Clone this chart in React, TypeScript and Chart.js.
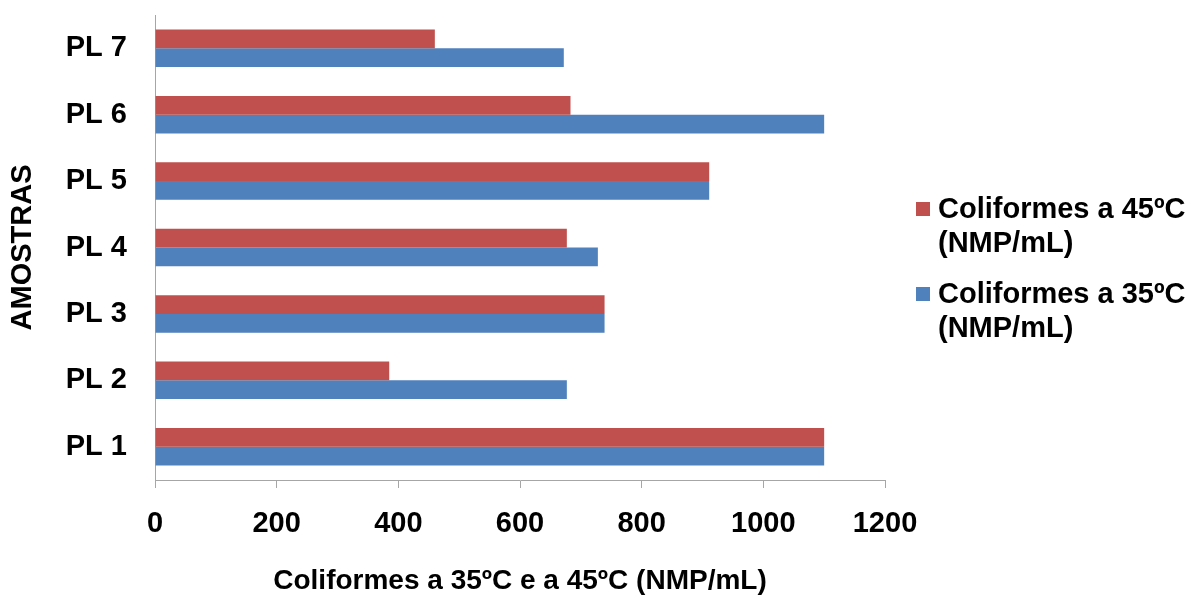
import React, { useEffect, useRef } from 'react';
import { Chart, registerables } from 'chart.js';

Chart.register(...registerables);

// Categories listed top to bottom as in the reference
const categories = ['PL 7', 'PL 6', 'PL 5', 'PL 4', 'PL 3', 'PL 2', 'PL 1'];
const coliformes45 = [460, 683, 911, 677, 739, 385, 1100];
const coliformes35 = [672, 1100, 911, 728, 739, 677, 1100];
const seriesLabels = ['Coliformes a 45ºC (NMP/mL)', 'Coliformes a 35ºC (NMP/mL)'];
const seriesColors = ['#C0504D', '#4F81BD'];
const xTicks = [0, 200, 400, 600, 800, 1000, 1200];
const xTitle = 'Coliformes a 35ºC e a 45ºC (NMP/mL)';
const yTitle = 'AMOSTRAS';

const FAMILY = '"Liberation Sans", Arial, Helvetica, sans-serif';

function splitLabel(label: string): string[] {
  const i = label.indexOf(' (');
  return i >= 0 ? [label.slice(0, i), label.slice(i + 1)] : [label];
}

const sideLegend = {
  id: 'sideLegend',
  afterDraw(chart: any) {
    const ctx = chart.ctx;
    ctx.save();
    ctx.font = `bold 29px ${FAMILY}`;
    ctx.textBaseline = 'middle';
    ctx.textAlign = 'left';
    chart.data.datasets.forEach((ds: any, i: number) => {
      const y0 = 209 + i * 85;
      ctx.fillStyle = ds.backgroundColor;
      ctx.fillRect(916, y0 - 7, 14, 14);
      ctx.fillStyle = '#000';
      splitLabel(ds.label).forEach((line, j) => {
        ctx.fillText(line, 938, y0 + 1 + j * 33.5);
      });
    });
    ctx.restore();
  },
};

export default function App() {
  const canvasRef = useRef<HTMLCanvasElement | null>(null);

  useEffect(() => {
    if (!canvasRef.current) return;
    const chart = new Chart(canvasRef.current, {
      type: 'bar',
      data: {
        labels: categories,
        datasets: [
          {
            label: seriesLabels[0],
            data: coliformes45,
            backgroundColor: seriesColors[0],
            categoryPercentage: 0.565,
            barPercentage: 1,
          },
          {
            label: seriesLabels[1],
            data: coliformes35,
            backgroundColor: seriesColors[1],
            categoryPercentage: 0.565,
            barPercentage: 1,
          },
        ],
      },
      plugins: [sideLegend],
      options: {
        indexAxis: 'y',
        animation: false,
        responsive: true,
        maintainAspectRatio: false,
        layout: { padding: { left: 0, right: 310, top: 15, bottom: 0 } },
        plugins: {
          legend: { display: false },
          tooltip: { enabled: false },
        },
        scales: {
          x: {
            type: 'linear',
            min: 0,
            max: 1200,
            afterFit: (s: any) => {
              s.height = 115;
              s.paddingLeft = 0;
              s.paddingRight = 0;
            },
            afterBuildTicks: (s: any) => {
              s.ticks = xTicks.map((v) => ({ value: v }));
            },
            grid: {
              drawOnChartArea: false,
              drawTicks: true,
              tickLength: 8,
              color: '#a6a6a6',
            },
            border: { display: true, color: '#a6a6a6', width: 1 },
            ticks: {
              color: '#000',
              font: { size: 29, weight: 'bold', family: FAMILY },
              padding: 19,
              maxRotation: 0,
              callback: (v: any) => String(v),
            },
            title: {
              display: true,
              text: xTitle,
              color: '#000',
              font: { size: 28, weight: 'bold', family: FAMILY, lineHeight: 1 },
              padding: { top: 0, bottom: 0 },
            },
          },
          y: {
            type: 'category',
            afterFit: (s: any) => {
              s.width = 155;
              s.paddingTop = 0;
              s.paddingBottom = 0;
            },
            grid: { display: false, drawTicks: false },
            border: { display: true, color: '#a6a6a6', width: 1 },
            ticks: {
              color: '#000',
              font: { size: 29, weight: 'bold', family: FAMILY },
              padding: 28,
            },
            title: {
              display: true,
              text: yTitle,
              color: '#000',
              font: { size: 29, weight: 'bold', family: FAMILY, lineHeight: 1 },
              padding: { top: 8, bottom: 0 },
            },
          },
        },
      } as any,
    });
    return () => chart.destroy();
  }, []);

  return (
    <div style={{ position: 'absolute', left: 0, top: 0, width: 1195, height: 595, background: '#fff' }}>
      <canvas ref={canvasRef} />
    </div>
  );
}
